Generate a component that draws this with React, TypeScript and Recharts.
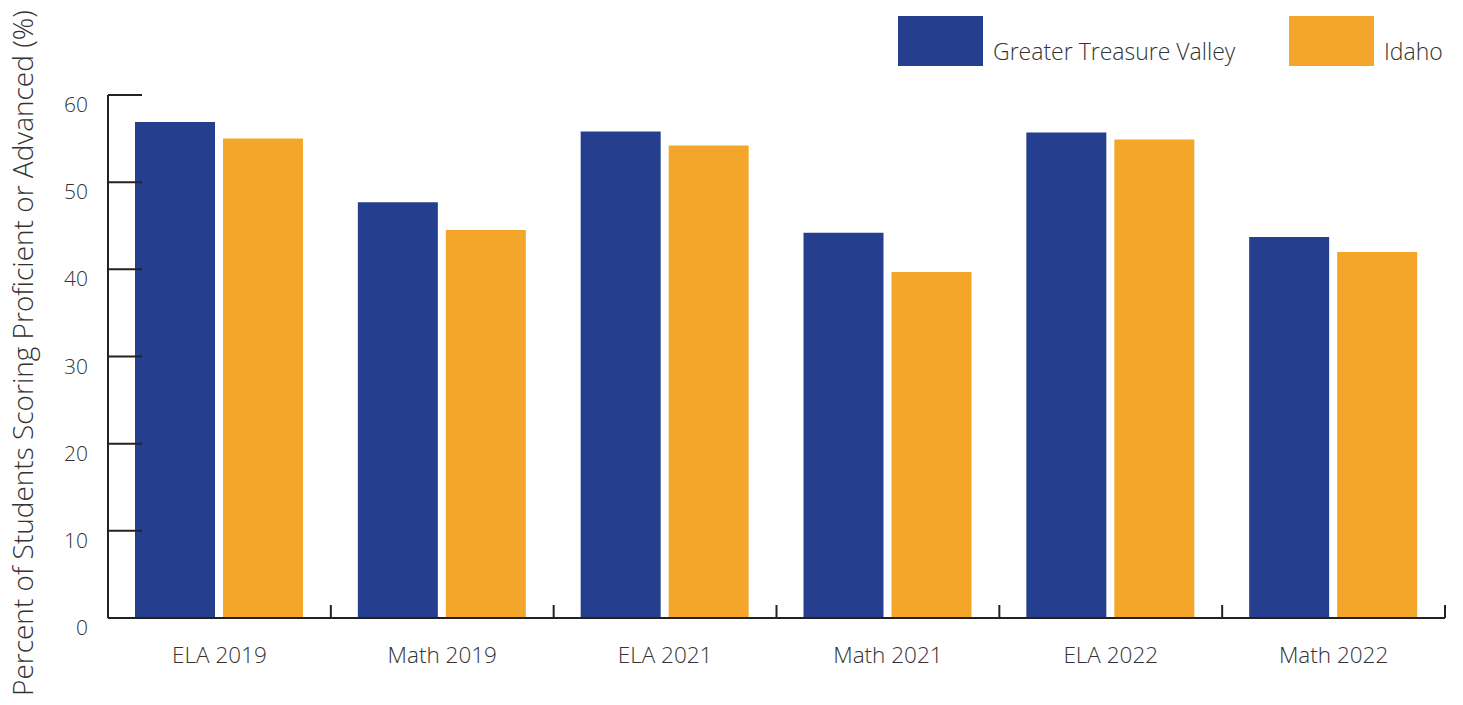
import { Bar, BarChart, XAxis, YAxis } from "recharts";

const categories = ["ELA 2019", "Math 2019", "ELA 2021", "Math 2021", "ELA 2022", "Math 2022"];
const treasureValley = [56.9, 47.7, 55.8, 44.2, 55.7, 43.7];
const idaho = [55.0, 44.5, 54.2, 39.7, 54.9, 42.0];
const yTicks = [0, 10, 20, 30, 40, 50, 60];

const series = [
  { key: "gtv", name: "Greater Treasure Valley", color: "#253f8e", legendX: 898 },
  { key: "idaho", name: "Idaho", color: "#f4a62a", legendX: 1289 }
];

const data = categories.map((name, i) => ({ name, gtv: treasureValley[i], idaho: idaho[i] }));

const font = "'Open Sans', 'Noto Sans', sans-serif";
const textColor = "#333";
const axisColor = "#222";

function YTick(props: any) {
  const { x, y, payload } = props;
  return (
    <g>
      <line x1={x} y1={y} x2={x + 34} y2={y} stroke={axisColor} strokeWidth={2} />
      <text x={x - 20} y={y + 17} textAnchor="end" fontSize={21} fontWeight={300} fontFamily={font} fill={textColor}>
        {payload.value}
      </text>
    </g>
  );
}

function XTick(props: any) {
  const { x, y, payload, index, width, visibleTicksCount } = props;
  const band = width / visibleTicksCount;
  const last = index === visibleTicksCount - 1;
  return (
    <g>
      <line x1={x - band / 2} y1={y} x2={x - band / 2} y2={y - 13} stroke={axisColor} strokeWidth={2} />
      {last && <line x1={x + band / 2} y1={y} x2={x + band / 2} y2={y - 13} stroke={axisColor} strokeWidth={2} />}
      <text x={x} y={y + 45} textAnchor="middle" fontSize={22.5} fontWeight={300} fontFamily={font} fill={textColor}>
        {payload.value}
      </text>
    </g>
  );
}

function YTitle() {
  return (
    <text
      x={33}
      y={353}
      transform="rotate(-90 33 353)"
      textAnchor="middle"
      fontSize={28}
      fontWeight={300}
      fontFamily={font}
      fill={textColor}
    >
      Percent of Students Scoring Proficient or Advanced (%)
    </text>
  );
}

export default function App() {
  return (
    <div style={{ position: "absolute", left: 0, top: 0, width: 1463, height: 705, background: "#fff" }}>
      <BarChart
        width={1463}
        height={705}
        data={data}
        margin={{ top: 95, right: 18, bottom: 0, left: 0 }}
        barCategoryGap={27}
        barGap={8}
      >
        <XAxis
          dataKey="name"
          height={87}
          axisLine={{ stroke: axisColor, strokeWidth: 2 }}
          tickLine={false}
          tickSize={0}
          tickMargin={0}
          tick={<XTick />}
          interval={0}
        />
        <YAxis
          width={108}
          domain={[0, 60]}
          ticks={yTicks}
          axisLine={{ stroke: axisColor, strokeWidth: 2 }}
          tickLine={false}
          tickSize={0}
          tickMargin={0}
          tick={<YTick />}
          label={<YTitle />}
        />
        {series.map((s) => (
          <Bar key={s.key} dataKey={s.key} name={s.name} fill={s.color} isAnimationActive={false} />
        ))}
      </BarChart>
      <svg width={1463} height={80} style={{ position: "absolute", left: 0, top: 0 }}>
        {series.map((s) => (
          <g key={s.key}>
            <rect x={s.legendX} y={16} width={85} height={50} fill={s.color} />
            <text x={s.legendX + 95} y={60} fontSize={23} fontWeight={300} fontFamily={font} fill={textColor}>
              {s.name}
            </text>
          </g>
        ))}
      </svg>
    </div>
  );
}
